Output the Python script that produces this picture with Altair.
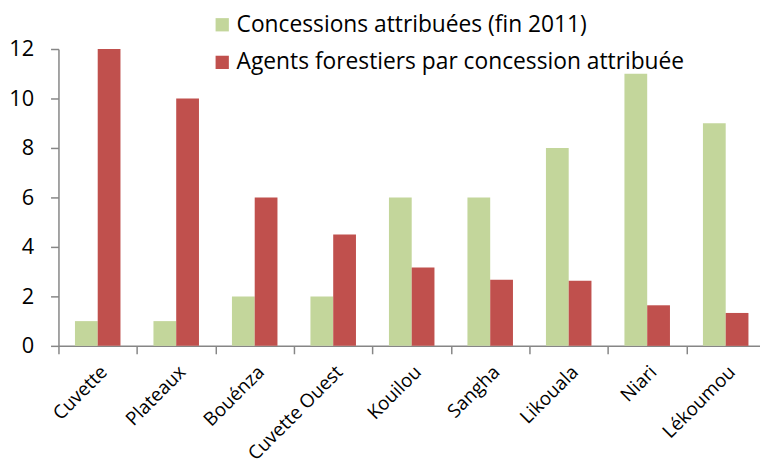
import altair as alt
import pandas as pd

regions = ["Cuvette", "Plateaux", "Bouénza", "Cuvette Ouest", "Kouilou",
           "Sangha", "Likouala", "Niari", "Lékoumou"]
concessions = [1, 1, 2, 2, 6, 6, 8, 11, 9]
agents = [12, 10, 6, 4.5, 3.17, 2.67, 2.63, 1.64, 1.33]
series_names = ["Concessions attribuées (fin 2011)",
                "Agents forestiers par concession attribuée"]
colors = ["#c3d69b", "#c0504d"]
y_ticks = [0, 2, 4, 6, 8, 10, 12]

rows = []
for r, c, a in zip(regions, concessions, agents):
    rows.append({"region": r, "serie": series_names[0], "valeur": c})
    rows.append({"region": r, "serie": series_names[1], "valeur": a})
df = pd.DataFrame(rows)

FONT = "Open Sans"

chart = alt.Chart(df).mark_bar().encode(
    x=alt.X("region:N", sort=regions, title=None,
            scale=alt.Scale(range=[0, 714], paddingInner=0, paddingOuter=0),
            axis=alt.Axis(labelAngle=-45, tickBand="extent", tickSize=8,
                          domainColor="#868686", tickColor="#868686",
                          domainWidth=1.5, tickWidth=1.5,
                          labelFontSize=19, labelColor="#000000",
                          labelFont=FONT, labelAlign="right",
                          labelBaseline="middle", labelPadding=15,
                          labelOffset=6)),
    xOffset=alt.XOffset("serie:N", sort=series_names,
                        scale=alt.Scale(paddingInner=0, paddingOuter=0.7246)),
    y=alt.Y("valeur:Q", title=None,
            scale=alt.Scale(domain=[0, 12], nice=False),
            axis=alt.Axis(values=y_ticks, grid=False, tickSize=8,
                          domainColor="#868686", tickColor="#868686",
                          domainWidth=1.5, tickWidth=1.5,
                          labelFontSize=22, labelColor="#000000",
                          labelFont=FONT, labelPadding=17)),
    color=alt.Color("serie:N", sort=series_names,
                    scale=alt.Scale(domain=series_names, range=colors),
                    legend=alt.Legend(title=None, orient="none",
                                      legendX=154, legendY=-36,
                                      symbolType="square", symbolSize=180,
                                      symbolStrokeWidth=0, labelOffset=3,
                                      labelFontSize=23, labelFont=FONT,
                                      labelColor="#000000",
                                      rowPadding=14, labelLimit=700,
                                      padding=0)),
).properties(
    width=709, height=300,
    autosize=alt.AutoSizeParams(type="none"),
    padding={"left": 51, "top": 39, "right": 0, "bottom": 121},
).configure_view(stroke=None)

chart.save("out.html", embed_options={"renderer": "svg", "actions": False})
